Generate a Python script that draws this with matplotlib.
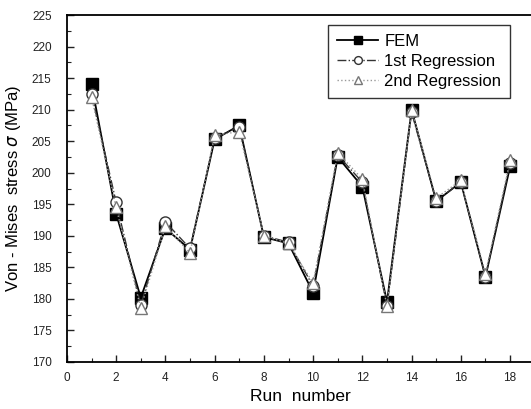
import matplotlib
matplotlib.use("Agg")
import matplotlib.pyplot as plt
from matplotlib.ticker import MultipleLocator

# --------------------------------------------------------------------
# Données (contrainte de Von Mises, MPa)
# --------------------------------------------------------------------
runs = list(range(1, 19))
fem = [214.0, 193.5, 180.2, 191.2, 187.8, 205.3, 207.5, 189.8, 188.8,
       181.0, 202.5, 197.8, 179.5, 210.0, 195.5, 198.5, 183.5, 201.0]
reg1 = [212.5, 195.3, 179.0, 192.2, 188.0, 205.5, 207.3, 190.0, 189.0,
        182.0, 202.8, 198.5, 178.8, 209.6, 195.5, 198.5, 183.5, 201.5]
reg2 = [212.0, 194.5, 178.5, 191.5, 187.3, 206.0, 206.5, 190.0, 188.8,
        182.5, 203.2, 199.0, 178.8, 210.0, 196.0, 198.8, 184.0, 202.0]

plt.rcParams["font.family"] = ["Liberation Sans", "DejaVu Sans"]

fig = plt.figure(figsize=(5.31, 4.09), dpi=100)
# le cadre déborde à droite comme sur l'original (bord droit coupé)
ax = fig.add_axes([0.126, 0.115, 0.881, 0.848])

ax.plot(runs, fem, color="black", lw=1.3, ls="-", marker="s", ms=8,
        mfc="black", mec="black", label="FEM", zorder=3)
ax.plot(runs, reg1, color="#333333", lw=1.0, ls="-.", marker="o", ms=8,
        mfc="white", mec="#333333", label="1st Regression", zorder=4)
ax.plot(runs, reg2, color="#999999", lw=1.0, ls=":", marker="^", ms=9,
        mfc="white", mec="#777777", label="2nd Regression", zorder=5)

ax.set_xlim(0, 19)
ax.set_ylim(170, 225)
ax.xaxis.set_major_locator(MultipleLocator(2))
ax.xaxis.set_minor_locator(MultipleLocator(1))
ax.yaxis.set_major_locator(MultipleLocator(5))
ax.yaxis.set_minor_locator(MultipleLocator(2.5))
ax.tick_params(which="both", direction="in", labelsize=8.5, colors="#222222")
ax.tick_params(which="major", length=5, width=1)
ax.tick_params(which="minor", length=3, width=0.8)
ax.tick_params(axis="y", which="major", pad=11)
ax.tick_params(axis="x", which="major", pad=7)
for s in ax.spines.values():
    s.set_linewidth(1.3)

ax.set_xlabel("Run  number", fontsize=12.5, labelpad=4)
ax.set_ylabel(r"Von - Mises  stress $\sigma$ (MPa)", fontsize=12, labelpad=6)

leg = ax.legend(loc="upper right", bbox_to_anchor=(0.948, 0.972),
                fontsize=12, frameon=True, fancybox=False,
                edgecolor="black", handlelength=2.5, borderpad=0.55,
                labelspacing=0.3, handletextpad=0.35, markerscale=0.7,
                borderaxespad=0)
leg.get_frame().set_linewidth(1.0)

fig.savefig("out.png", dpi=100)
plt.close(fig)
